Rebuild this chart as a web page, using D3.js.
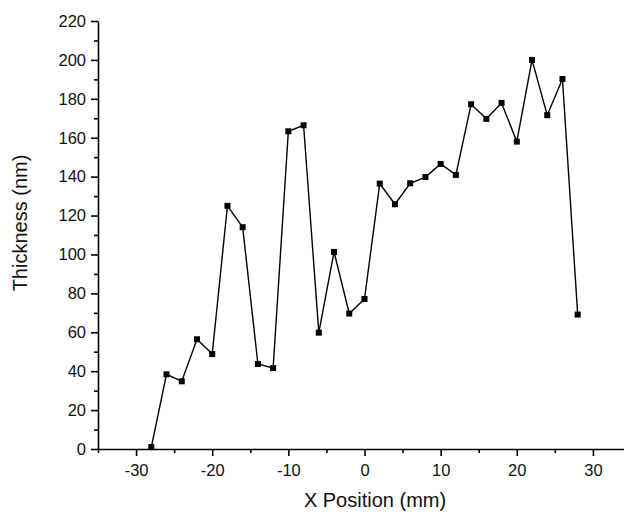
<!DOCTYPE html>
<html>
<head>
<meta charset="utf-8">
<script src="https://cdn.jsdelivr.net/npm/d3@7"></script>
<style>
  body { margin: 0; background: #fff; }
  svg { display: block; font-family: "Liberation Sans", Arial, sans-serif; }
</style>
</head>
<body>
<svg></svg>
<script>
// canvas
const w = 624;
const h = 515;

// data
const xPositions = [-28, -26, -24, -22, -20, -18, -16, -14, -12, -10, -8, -6, -4, -2, 0,
                    2, 4, 6, 8, 10, 12, 14, 16, 18, 20, 22, 24, 26, 28];
const thickness = [1, 38.4, 34.8, 56.4, 48.8, 125, 114, 43.7, 41.6, 163.3, 166.4, 59.8, 101.3, 69.6, 77.1,
                   136.4, 125.8, 136.6, 139.8, 146.5, 140.9, 177.2, 169.7, 177.9, 158, 200, 171.6, 190.2, 69.1];
const xTicks = [-30, -20, -10, 0, 10, 20, 30];
const xMinor = [-35, -25, -15, -5, 5, 15, 25];
const yTicks = [0, 20, 40, 60, 80, 100, 120, 140, 160, 180, 200, 220];
const yMinor = [10, 30, 50, 70, 90, 110, 130, 150, 170, 190, 210];

const svg = d3.select("svg")
              .attr("width", w)
              .attr("height", h);

// scales
const xScale = d3.scaleLinear()
                 .domain([-35, 35])
                 .range([98, 631]);

const yScale = d3.scaleLinear()
                 .domain([0, 220])
                 .range([449, 21]);

// minor ticks first so the major ones sit on top
svg.append('g')
   .attr('transform', 'translate(0, 449)')
   .call(d3.axisBottom(xScale).tickValues(xMinor).tickSize(4).tickFormat(''))
   .call(g => g.select('.domain').remove());

svg.append('g')
   .attr('transform', 'translate(98, 0)')
   .call(d3.axisLeft(yScale).tickValues(yMinor).tickSize(4).tickFormat(''))
   .call(g => g.select('.domain').remove());

// x-axis (plain hyphen for negatives, like the original)
svg.append('g')
   .attr('id', 'x-axis')
   .attr('transform', 'translate(0, 449)')
   .call(d3.axisBottom(xScale).tickValues(xTicks).tickFormat(d => String(d))
           .tickSize(7).tickSizeOuter(0).tickPadding(8));

// y-axis
svg.append('g')
   .attr('id', 'y-axis')
   .attr('transform', 'translate(98, 0)')
   .call(d3.axisLeft(yScale).tickValues(yTicks).tickFormat(d => String(d))
           .tickSize(7).tickSizeOuter(0).tickPadding(5));

svg.selectAll('.tick line, .domain')
   .attr('stroke', '#000')
   .attr('stroke-width', 1.6);

svg.selectAll('.tick text')
   .attr('fill', '#111')
   .style('font-size', '16.5px');

// axis titles
svg.append('text')
   .attr('x', 375)
   .attr('y', 507)
   .attr('text-anchor', 'middle')
   .attr('fill', '#111')
   .style('font-size', '20px')
   .text('X Position (mm)');

svg.append('text')
   .attr('transform', 'translate(27, 223) rotate(-90)')
   .attr('text-anchor', 'middle')
   .attr('fill', '#111')
   .style('font-size', '20px')
   .text('Thickness (nm)');

// line
const line = d3.line()
               .x((d, i) => xScale(xPositions[i]))
               .y(d => yScale(d));

svg.append('path')
   .datum(thickness)
   .attr('fill', 'none')
   .attr('stroke', '#000')
   .attr('stroke-width', 1.4)
   .attr('d', line);

// square markers
svg.selectAll('rect.pt')
   .data(thickness)
   .enter()
   .append('rect')
   .attr('class', 'pt')
   .attr('x', (d, i) => xScale(xPositions[i]) - 3)
   .attr('y', d => yScale(d) - 3)
   .attr('width', 6)
   .attr('height', 6)
   .attr('fill', '#000');
</script>
</body>
</html>
